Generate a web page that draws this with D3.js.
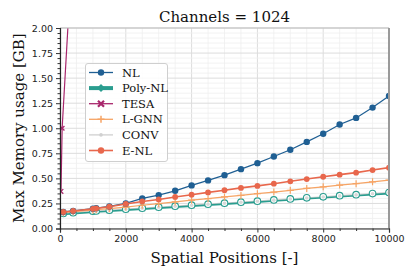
<!DOCTYPE html>
<html><head><meta charset="utf-8">
<script src="https://cdn.jsdelivr.net/npm/d3@7"></script>
<style>body{margin:0;background:#fff}svg{display:block}.serif{font-family:"DejaVu Serif","Liberation Serif",serif}</style>
</head><body><svg id="c" width="405" height="276"></svg>
<script>
const xs = [100, 400, 1000, 1100, 1500, 2000, 2500, 3000, 3500, 4000, 4500, 5000, 5500, 6000, 6500, 7000, 7500, 8000, 8500, 9000, 9500, 10000];
const nl    = [0.165, 0.175, 0.198, 0.203, 0.22, 0.25, 0.30, 0.333, 0.376, 0.43, 0.48, 0.532, 0.592, 0.652, 0.718, 0.786, 0.864, 0.945, 1.037, 1.103, 1.206, 1.322];
const enl   = [0.165, 0.175, 0.196, 0.201, 0.217, 0.245, 0.27, 0.29, 0.315, 0.337, 0.36, 0.382, 0.405, 0.425, 0.447, 0.471, 0.493, 0.516, 0.537, 0.557, 0.583, 0.607];
const lgnn  = [0.158, 0.167, 0.183, 0.187, 0.198, 0.214, 0.232, 0.248, 0.265, 0.283, 0.298, 0.315, 0.33, 0.347, 0.363, 0.381, 0.4, 0.416, 0.433, 0.447, 0.466, 0.483];
const poly  = [0.14, 0.148, 0.162, 0.165, 0.172, 0.183, 0.193, 0.203, 0.213, 0.223, 0.233, 0.243, 0.253, 0.263, 0.275, 0.285, 0.296, 0.306, 0.317, 0.327, 0.338, 0.348];
const conv  = [0.148, 0.157, 0.17, 0.173, 0.181, 0.192, 0.202, 0.212, 0.222, 0.232, 0.242, 0.252, 0.262, 0.272, 0.283, 0.294, 0.304, 0.314, 0.325, 0.335, 0.346, 0.358];
const tesaX = [30, 65, 500];
const tesaY = [0.37, 1.0, 3.5];
const xTicks = [0, 2000, 4000, 6000, 8000, 10000];
const yTicks = [0, 0.25, 0.5, 0.75, 1.0, 1.25, 1.5, 1.75, 2.0];
const title = "Channels = 1024";
const xLabel = "Spatial Positions [-]";
const yLabel = "Max Memory usage [GB]";

const svg = d3.select("#c");
const L = 60, R = 389, T = 28, B = 228.5;
const x = d3.scaleLinear().domain([0, 10000]).range([L, R]);
const y = d3.scaleLinear().domain([0, 2]).range([B, T]);

// grid
const g = svg.append("g");
g.selectAll(".mx").data(d3.range(0, 10001, 500)).enter().append("line")
  .attr("x1", d => x(d)).attr("x2", d => x(d)).attr("y1", T).attr("y2", B)
  .attr("stroke", d => d % 2000 === 0 ? "#dcdcdc" : "#efefef").attr("stroke-width", d => d % 2000 === 0 ? 1 : 0.8);
g.selectAll(".my").data(d3.range(0, 41).map(i => i * 0.05)).enter().append("line")
  .attr("y1", d => y(d)).attr("y2", d => y(d)).attr("x1", L).attr("x2", R)
  .attr("stroke", (d, i) => i % 5 === 0 ? "#dcdcdc" : "#efefef").attr("stroke-width", (d, i) => i % 5 === 0 ? 1 : 0.8);

svg.append("defs").append("clipPath").attr("id", "clip").append("rect")
  .attr("x", L).attr("y", T).attr("width", R - L).attr("height", B - T);
const p = svg.append("g").attr("clip-path", "url(#clip)");
const line = d3.line().x(d => x(d[0])).y(d => y(d[1]));
const zip = (a, b) => a.map((v, i) => [v, b[i]]);

const C = {nl: "#1f5f93", poly: "#2a9d8f", tesa: "#a8266c", lgnn: "#f6a465", conv: "#cfcfcf", enl: "#e8674c"};

// CONV / Poly-NL
p.append("path").attr("d", line(zip(xs, conv))).attr("fill", "none").attr("stroke", C.conv).attr("stroke-width", 1.6);
p.append("path").attr("d", line(zip(xs, poly))).attr("fill", "none").attr("stroke", C.poly).attr("stroke-width", 1.6);
p.selectAll(".pm").data(zip(xs, poly)).enter().append("circle")
  .attr("cx", d => x(d[0])).attr("cy", d => y(d[1]) - 1).attr("r", 3.3)
  .attr("fill", "#fff").attr("stroke", C.poly).attr("stroke-width", 1.1);
p.selectAll(".cm").data(zip(xs, conv)).enter().append("circle")
  .attr("cx", d => x(d[0])).attr("cy", d => y(d[1])).attr("r", 1.8).attr("fill", "#d8d8d8");
// L-GNN
p.append("path").attr("d", line(zip(xs, lgnn))).attr("fill", "none").attr("stroke", C.lgnn).attr("stroke-width", 1.2);
p.selectAll(".lm").data(zip(xs, lgnn)).enter().append("path")
  .attr("d", d => `M${x(d[0]) - 3.5},${y(d[1])}h7M${x(d[0])},${y(d[1]) - 3.5}v7`)
  .attr("stroke", C.lgnn).attr("stroke-width", 1.2);
// NL
p.append("path").attr("d", line(zip(xs, nl))).attr("fill", "none").attr("stroke", C.nl).attr("stroke-width", 1.2);
p.selectAll(".nm").data(zip(xs, nl)).enter().append("circle")
  .attr("cx", d => x(d[0])).attr("cy", d => y(d[1])).attr("r", 3.2).attr("fill", C.nl);
// E-NL
p.append("path").attr("d", line(zip(xs, enl))).attr("fill", "none").attr("stroke", C.enl).attr("stroke-width", 1.6);
p.selectAll(".em").data(zip(xs, enl)).enter().append("circle")
  .attr("cx", d => x(d[0])).attr("cy", d => y(d[1])).attr("r", 2.9).attr("fill", C.enl);
// TESA
p.append("path").attr("d", line(zip(tesaX, tesaY))).attr("fill", "none").attr("stroke", C.tesa).attr("stroke-width", 1.2);
p.selectAll(".tm").data(zip(tesaX, tesaY)).enter().append("path")
  .attr("d", d => { const cx = x(d[0]), cy = y(d[1]), s = 2.3; return `M${cx - s},${cy - s}L${cx + s},${cy + s}M${cx - s},${cy + s}L${cx + s},${cy - s}`; })
  .attr("stroke", C.tesa).attr("stroke-width", 1.3);

// spines
svg.append("line").attr("x1", L).attr("x2", R).attr("y1", T).attr("y2", T).attr("stroke", "#bdbdbd").attr("stroke-width", 1);
svg.append("line").attr("x1", R).attr("x2", R).attr("y1", T).attr("y2", B).attr("stroke", "#9a9a9a").attr("stroke-width", 2);

// axes
svg.append("g").attr("transform", `translate(0,${B})`)
  .call(d3.axisBottom(x).tickValues(xTicks).tickFormat(d3.format("d")).tickSize(4).tickPadding(3));
svg.append("g").attr("transform", `translate(0,${B})`)
  .call(d3.axisBottom(x).tickValues(d3.range(500, 10000, 500).filter(v => v % 2000)).tickFormat("").tickSize(2.5))
  .select(".domain").remove();
svg.append("g").attr("transform", `translate(${L},0)`)
  .call(d3.axisLeft(y).tickValues(yTicks).tickFormat(d3.format(".2f")).tickSize(4).tickPadding(3));
svg.append("g").attr("transform", `translate(${L},0)`)
  .call(d3.axisLeft(y).tickValues(d3.range(0, 41).filter(i => i % 5).map(i => i * 0.05)).tickFormat("").tickSize(2.5))
  .select(".domain").remove();
svg.selectAll(".tick text").attr("font-family", "DejaVu Sans").attr("font-size", 9.5).attr("fill", "#222");
svg.selectAll(".domain").attr("stroke", "#222").attr("stroke-width", 1.2);
svg.selectAll(".tick line").attr("stroke", "#333");

// labels
svg.append("text").attr("class", "serif").attr("x", (L + R) / 2).attr("y", 22).attr("text-anchor", "middle")
  .attr("font-size", 15).attr("fill", "#111").text(title);
svg.append("text").attr("class", "serif").attr("x", (L + R) / 2).attr("y", 263).attr("text-anchor", "middle")
  .attr("font-size", 15).attr("fill", "#111").text(xLabel);
svg.append("text").attr("class", "serif").attr("transform", `translate(24,${(T + B) / 2}) rotate(-90)`).attr("text-anchor", "middle")
  .attr("font-size", 15).attr("fill", "#111").text(yLabel);

// legend
const names = ["NL", "Poly-NL", "TESA", "L-GNN", "CONV", "E-NL"];
const keys = ["nl", "poly", "tesa", "lgnn", "conv", "enl"];
const lg = svg.append("g");
lg.append("rect").attr("x", 85.5).attr("y", 63.5).attr("width", 82).attr("height", 98).attr("rx", 2.5)
  .attr("fill", "#fff").attr("fill-opacity", 0.85).attr("stroke", "#cfcfcf").attr("stroke-width", 1);
keys.forEach((k, i) => {
  const yy = 72.5 + i * 15.6, cx = 101;
  lg.append("line").attr("x1", 89).attr("x2", 113).attr("y1", yy).attr("y2", yy)
    .attr("stroke", C[k]).attr("stroke-width", k === "poly" ? 4 : (k === "enl" ? 1.6 : 1.3));
  if (k === "nl" || k === "enl") lg.append("circle").attr("cx", cx).attr("cy", yy).attr("r", 3.2).attr("fill", C[k]);
  if (k === "poly") lg.append("path").attr("d", `M${cx},${yy - 4}L${cx + 4},${yy}L${cx},${yy + 4}L${cx - 4},${yy}Z`).attr("fill", C[k]);
  if (k === "tesa") lg.append("path").attr("d", `M${cx - 3},${yy - 3}L${cx + 3},${yy + 3}M${cx - 3},${yy + 3}L${cx + 3},${yy - 3}`).attr("stroke", C[k]).attr("stroke-width", 2.2);
  if (k === "lgnn") lg.append("path").attr("d", `M${cx - 3.5},${yy}h7M${cx},${yy - 3.5}v7`).attr("stroke", C[k]).attr("stroke-width", 1.5);
  if (k === "conv") lg.append("circle").attr("cx", cx).attr("cy", yy).attr("r", 1.8).attr("fill", "#d0d0d0");
  lg.append("text").attr("class", "serif").attr("x", 122).attr("y", yy + 4).attr("font-size", 11.5).attr("fill", "#111").text(names[i]);
});
</script></body></html>
